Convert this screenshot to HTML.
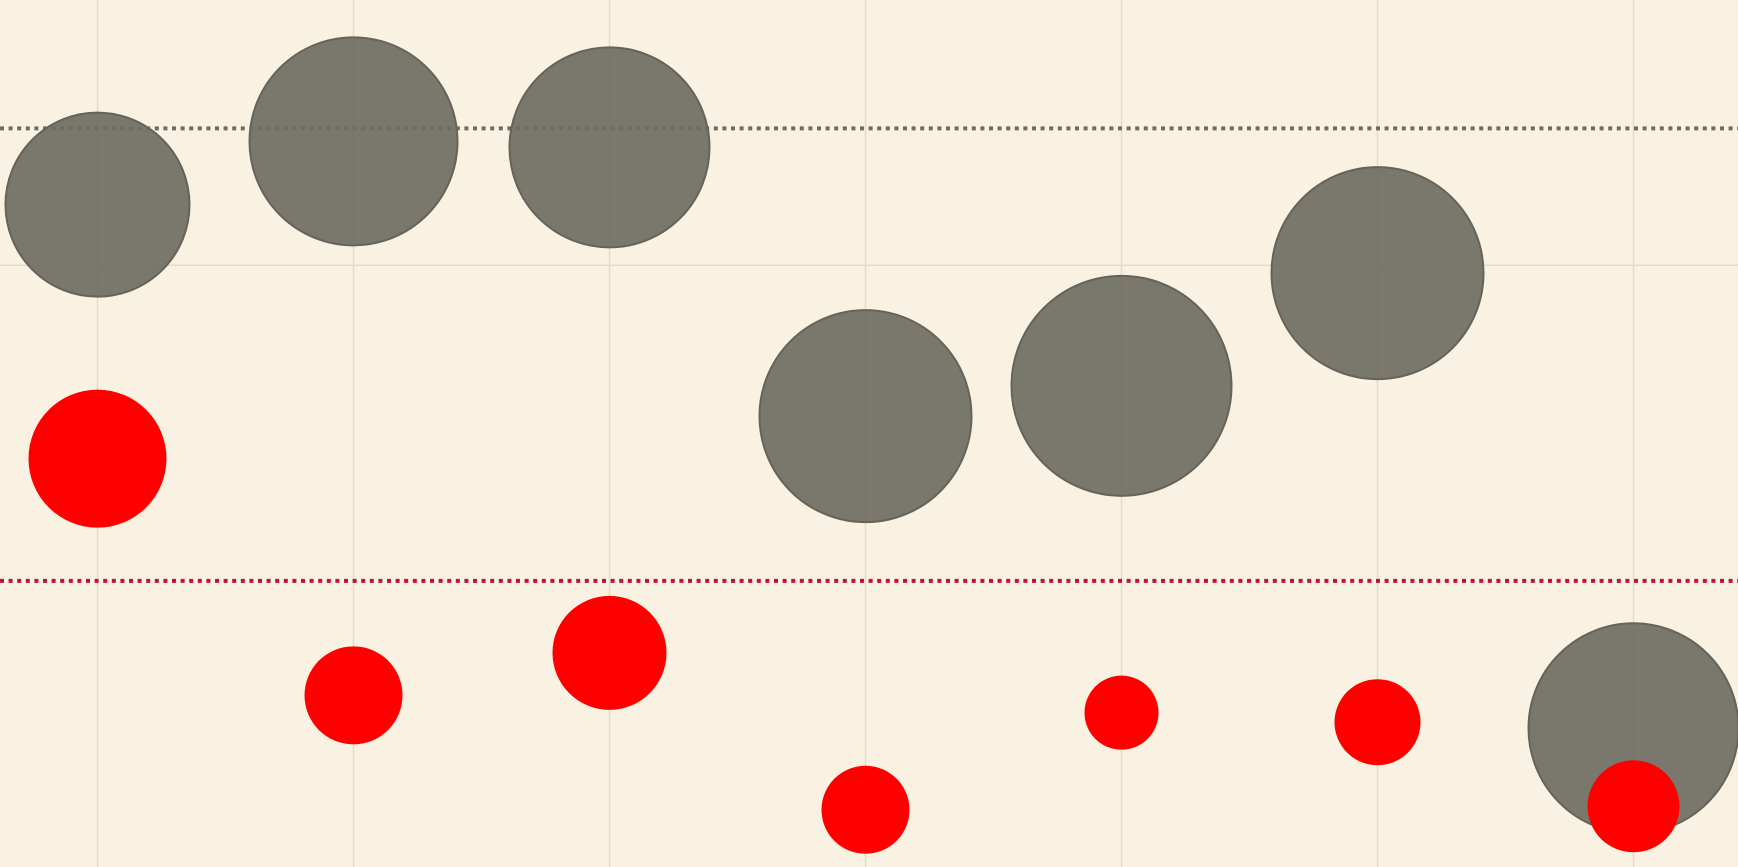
<!DOCTYPE html>
<html><head><meta charset="utf-8"><style>
html,body{margin:0;padding:0;background:#f9f1e1;}
svg{display:block;}
</style></head><body>
<svg id="chart" width="1738" height="867" viewBox="0 0 1738 867" xmlns="http://www.w3.org/2000/svg">
<rect width="1738" height="867" fill="#f9f1e1"/>
<g id="grid"></g><g id="refs"></g><g id="gray"></g><g id="red"></g>
</svg>
<script>
const categories = [0,1,2,3,4,5,6];
const grayValues = [76.4, 83.7, 83.0, 52.0, 55.5, 68.5, 16.0];
const graySizes = [92, 104, 100, 106, 110, 106, 105];
const redValues = [47.1, 19.8, 24.7, 6.6, 17.8, 16.7, 7.0];
const redSizes = [69, 49, 57, 44, 37, 43, 46];
const grayRef = 85.2;
const redRef = 33.0;
const gridY = [69.4];

const NS='http://www.w3.org/2000/svg';
function xScale(i){return 97.5 + i*256;}
function yScale(v){return 867 - v*8.67;}
function mk(tag,attrs,parent){const e=document.createElementNS(NS,tag);for(const k in attrs)e.setAttribute(k,attrs[k]);parent.appendChild(e);return e;}
const grid=document.getElementById('grid');
categories.forEach(c=>{
  const l=mk('line',{x1:xScale(c),x2:xScale(c),y1:0,y2:867,stroke:'#e2dccd','stroke-width':1.5},grid);
  
  
});
gridY.forEach(v=>{
  const l=mk('line',{x1:0,x2:1738,y1:yScale(v),y2:yScale(v),stroke:'#e2dccd','stroke-width':1.5},grid);
  
  
});
const refs=document.getElementById('refs');
const g1=mk('line',{x1:0,x2:1738,y1:yScale(grayRef),y2:yScale(grayRef),stroke:'#6e6b63','stroke-width':4,'stroke-dasharray':'4 4.6'},refs);


const r1=mk('line',{x1:0,x2:1738,y1:yScale(redRef),y2:yScale(redRef),stroke:'#c8102e','stroke-width':4,'stroke-dasharray':'4 4.6'},refs);


const gray=document.getElementById('gray');
categories.forEach((c,i)=>{
  const e=mk('circle',{cx:xScale(c),cy:yScale(grayValues[i]),r:graySizes[i],fill:'#6f6c62','fill-opacity':0.92,stroke:'#66635a','stroke-width':2},gray);
  
  
});
const red=document.getElementById('red');
categories.forEach((c,i)=>{
  const e=mk('circle',{cx:xScale(c),cy:yScale(redValues[i]),r:redSizes[i],fill:'#ff0000'},red);
  
  
});
</script>
</body></html>
